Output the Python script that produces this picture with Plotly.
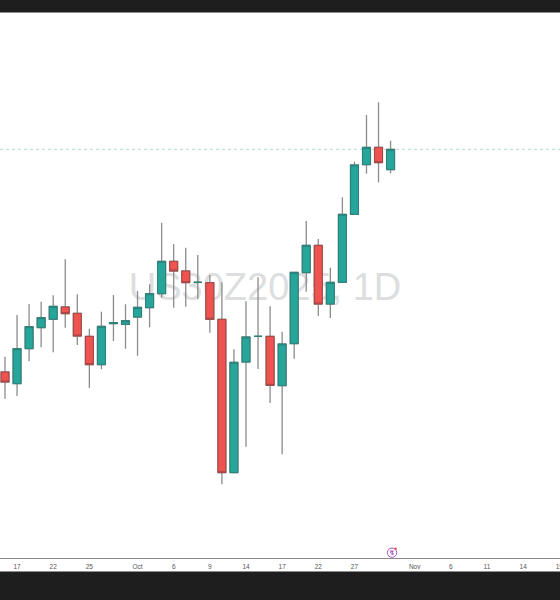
import plotly.graph_objects as go

# Sessions (past candles followed by empty future sessions on the time axis)
dates = [
    "2025-09-16","2025-09-17","2025-09-18","2025-09-19","2025-09-22","2025-09-23","2025-09-24","2025-09-25",
    "2025-09-26","2025-09-29","2025-09-30","2025-10-01","2025-10-02","2025-10-03","2025-10-06","2025-10-07",
    "2025-10-08","2025-10-09","2025-10-10","2025-10-13","2025-10-14","2025-10-15","2025-10-16","2025-10-17",
    "2025-10-20","2025-10-21","2025-10-22","2025-10-23","2025-10-24","2025-10-27","2025-10-28","2025-10-29",
    "2025-10-30",
]
future_dates = [
    "2025-10-31","2025-11-03","2025-11-04","2025-11-05","2025-11-06","2025-11-07","2025-11-10","2025-11-11",
    "2025-11-12","2025-11-13","2025-11-14","2025-11-17","2025-11-18","2025-11-19",
]
opens = [228,216.3,251.3,272.3,280.7,293,286.7,263.7,235.3,276.3,275.7,283,292.3,306.3,338.7,329,317.7,317.3,
         280.7,127.3,238,263.7,263.7,214.3,256.3,327.3,354.7,296,317.7,385.7,435.3,452.7,430.3]
closes = [218,251.3,273.3,282.3,293.7,286.3,264,235.3,273.7,277.3,279.3,292.7,306.3,338.7,329,317.3,317.7,280.7,
          127.3,237.7,263,263.7,214.7,256,327.7,354.7,296,317.7,385.7,435,452.7,437.3,450.7]
highs = [243.3,285,296,298.3,304.7,340.7,305.7,271.3,288.3,305,295.7,309,315.7,377.3,356,352.3,345,325,
         317.7,250.7,298.7,322.7,293.7,268.3,328,379,361,332.3,402.7,438.3,485,497.7,459.3]
lows = [201.3,204,238.7,252.7,247.7,272.3,255,212,230.7,259,251.3,244.3,272.7,302.3,292.3,293.3,300.7,267.3,
        115.7,127.3,153.3,231,197,145.7,241.3,308.3,284,282,317.7,385.7,426.3,417.7,426.7]
tick_dates = ["2025-09-17","2025-09-22","2025-09-25","2025-10-01","2025-10-06","2025-10-09","2025-10-14",
              "2025-10-17","2025-10-22","2025-10-27","2025-11-03","2025-11-06","2025-11-11","2025-11-14","2025-11-19"]
tick_labels = ["17","22","25","Oct","6","9","14","17","22","27","Nov","6","11","14","19"]
watermark = "US30Z2025, 1D"

W, H = 560, 600
T, B = 12, 42
PH = H - T - B
GREEN, RED = "#26a69a", "#ef5350"

def py(y_px):
    return (H - B - y_px) / PH

def px(x_px):
    return x_px / W

fig = go.Figure()
fig.add_trace(go.Candlestick(
    x=dates, open=opens, high=highs, low=lows, close=closes, whiskerwidth=0,
    increasing=dict(fillcolor=GREEN, line=dict(color="#8c8c8c", width=1.3)),
    decreasing=dict(fillcolor=RED, line=dict(color="#8c8c8c", width=1.3)),
    showlegend=False,
))
fig.add_trace(go.Candlestick(
    x=dates, open=opens, close=closes,
    high=[max(a, b) for a, b in zip(opens, closes)],
    low=[min(a, b) for a, b in zip(opens, closes)],
    whiskerwidth=0,
    increasing=dict(fillcolor=GREEN, line=dict(color="#2a7f77", width=1)),
    decreasing=dict(fillcolor=RED, line=dict(color="#a04543", width=1)),
    showlegend=False,
))

shapes = [
    dict(type="rect", xref="paper", yref="paper", x0=0, x1=1, y0=py(12.5), y1=py(0),
         fillcolor="#1e1e1e", line_width=0, layer="above"),
    dict(type="rect", xref="paper", yref="paper", x0=0, x1=1, y0=py(600), y1=py(571.5),
         fillcolor="#1e1e1e", line_width=0, layer="above"),
    dict(type="line", xref="paper", yref="paper", x0=0, x1=1, y0=py(558.5), y1=py(558.5),
         line=dict(color="#8a8a8a", width=1), layer="above"),
    dict(type="line", xref="paper", yref="y", x0=0, x1=1, y0=closes[-1], y1=closes[-1],
         line=dict(color="#b5d8d4", width=1, dash="dot"), layer="below"),
    dict(type="rect", xref="paper", yref="paper", x0=px(60), x1=px(470), y0=py(308), y1=py(258),
         line_width=0, fillcolor="rgba(0,0,0,0)", layer="below",
         label=dict(text=watermark, textposition="middle center",
                    font=dict(family="Liberation Sans", size=38, color="#dcdee0"))),
    dict(type="circle", xref="paper", yref="paper", x0=px(387.3), x1=px(396.7), y0=py(557.3), y1=py(548),
         line=dict(color="#a855c8", width=1), fillcolor="rgba(0,0,0,0)", layer="above"),
    dict(type="circle", xref="paper", yref="paper", x0=px(394.3), x1=px(396.8), y0=py(550), y1=py(547.5),
         line_width=0, fillcolor="#ef5350", layer="above"),
]

fig.update_layout(
    width=W, height=H, margin=dict(l=0, r=0, t=T, b=B),
    paper_bgcolor="#ffffff", plot_bgcolor="#ffffff",
    boxmode="overlay", boxgap=0.34, boxgroupgap=0, showlegend=False, shapes=shapes,
    font=dict(family="Liberation Sans", size=7, color="#555555"),
    annotations=[dict(text="<b>↯</b>", xref="paper", yref="paper", x=px(392), y=py(552.7), showarrow=False,
                      xanchor="center", yanchor="middle", borderpad=0,
                      font=dict(size=7, color="#a855c8", family="DejaVu Sans"))],
    xaxis=dict(type="category", categoryorder="array", categoryarray=dates + future_dates,
               range=[-0.415, 46.06], automargin=False, tickmode="array", tickvals=tick_dates, ticktext=tick_labels,
               tickangle=0, ticks="outside", ticklen=2, tickcolor="rgba(0,0,0,0)", showgrid=False, zeroline=False, showline=False,
               rangeslider=dict(visible=False), tickfont=dict(size=6.5, color="#555555")),
    yaxis=dict(range=[H - (H - B), H - T], showticklabels=False, ticks="", showgrid=False, zeroline=False),
)

fig.write_html("out.html", config={"displayModeBar": False},
               post_script="document.body.style.margin='0';")
